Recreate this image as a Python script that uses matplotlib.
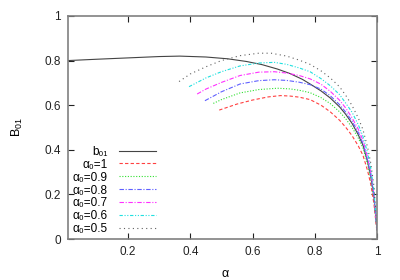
import matplotlib
matplotlib.use("Agg")
import matplotlib.pyplot as plt

plt.rcParams['font.family'] = ['Liberation Sans', 'DejaVu Sans']
plt.rcParams['mathtext.fontset'] = 'custom'
plt.rcParams['mathtext.rm'] = 'Liberation Sans'
plt.rcParams['mathtext.it'] = 'Liberation Sans'

# b01 curve
x_b01 = [0.007, 0.1, 0.2, 0.3, 0.366, 0.45, 0.52, 0.58, 0.63, 0.68, 0.72, 0.76, 0.785, 0.82, 0.85, 0.88, 0.9, 0.92, 0.94, 0.955, 0.97, 0.98, 0.99, 1.0]
y_b01 = [0.800, 0.806, 0.812, 0.818, 0.820, 0.816, 0.808, 0.796, 0.782, 0.762, 0.742, 0.716, 0.695, 0.664, 0.632, 0.592, 0.558, 0.518, 0.467, 0.420, 0.345, 0.28, 0.19, 0.04]

# alpha0 = 1
x_a10 = [0.493, 0.55, 0.6, 0.65, 0.69, 0.72, 0.75, 0.785, 0.82, 0.85, 0.88, 0.9, 0.92, 0.94, 0.955, 0.97, 0.98, 0.99, 1.0]
y_a10 = [0.578, 0.605, 0.623, 0.637, 0.643, 0.641, 0.636, 0.625, 0.600, 0.570, 0.532, 0.500, 0.463, 0.417, 0.375, 0.305, 0.245, 0.16, 0.03]
# alpha0 = 0.9
x_a09 = [0.474, 0.5, 0.56, 0.62, 0.68, 0.72, 0.75, 0.785, 0.82, 0.85, 0.88, 0.9, 0.92, 0.94, 0.955, 0.97, 0.98, 0.99, 1.0]
y_a09 = [0.608, 0.625, 0.655, 0.670, 0.676, 0.673, 0.667, 0.656, 0.634, 0.607, 0.570, 0.538, 0.500, 0.452, 0.408, 0.335, 0.27, 0.182, 0.04]
# alpha0 = 0.8
x_a08 = [0.447, 0.5, 0.56, 0.62, 0.67, 0.71, 0.75, 0.785, 0.82, 0.85, 0.88, 0.9, 0.92, 0.94, 0.955, 0.97, 0.98, 0.99, 1.0]
y_a08 = [0.620, 0.660, 0.695, 0.710, 0.714, 0.711, 0.703, 0.692, 0.672, 0.642, 0.602, 0.568, 0.528, 0.477, 0.428, 0.353, 0.286, 0.195, 0.04]
# alpha0 = 0.7
x_a07 = [0.422, 0.45, 0.5, 0.56, 0.62, 0.67, 0.71, 0.75, 0.785, 0.82, 0.85, 0.88, 0.9, 0.92, 0.94, 0.955, 0.97, 0.98, 0.99, 1.0]
y_a07 = [0.650, 0.672, 0.702, 0.733, 0.748, 0.750, 0.744, 0.733, 0.718, 0.694, 0.662, 0.622, 0.586, 0.543, 0.492, 0.442, 0.365, 0.30, 0.205, 0.045]
# alpha0 = 0.6
x_a06 = [0.396, 0.45, 0.5, 0.56, 0.62, 0.67, 0.71, 0.75, 0.785, 0.82, 0.85, 0.88, 0.9, 0.92, 0.94, 0.955, 0.97, 0.98, 0.99, 1.0]
y_a06 = [0.683, 0.722, 0.750, 0.776, 0.789, 0.792, 0.783, 0.767, 0.750, 0.719, 0.687, 0.647, 0.608, 0.568, 0.512, 0.460, 0.385, 0.315, 0.22, 0.05]
# alpha0 = 0.5
x_a05 = [0.364, 0.4, 0.45, 0.5, 0.56, 0.62, 0.66, 0.71, 0.75, 0.785, 0.82, 0.85, 0.88, 0.9, 0.92, 0.94, 0.955, 0.97, 0.98, 0.99, 1.0]
y_a05 = [0.706, 0.740, 0.772, 0.800, 0.822, 0.833, 0.833, 0.820, 0.802, 0.783, 0.754, 0.722, 0.682, 0.643, 0.598, 0.542, 0.490, 0.410, 0.34, 0.24, 0.05]

labels = ['b₀₁', 'α₀=1', 'α₀=0.9', 'α₀=0.8', 'α₀=0.7', 'α₀=0.6', 'α₀=0.5']
x_ticks = [0.2, 0.4, 0.6, 0.8, 1.0]
x_ticklabels = ['0.2', '0.4', '0.6', '0.8', '1']
y_ticks = [0, 0.2, 0.4, 0.6, 0.8, 1.0]
y_ticklabels = ['0', '0.2', '0.4', '0.6', '0.8', '1']

fig = plt.figure(figsize=(4.0, 2.8), dpi=100)
ax = fig.add_axes([0.17, 0.1464, 0.7725, 0.7966])

series = [
    (x_b01, y_b01, '#444444', '-'),
    (x_a10, y_a10, '#ff4040', (0, (3, 2))),
    (x_a09, y_a09, '#30e030', (0, (1, 1.5))),
    (x_a08, y_a08, '#6060ff', (0, (4, 1.5, 1, 1.5))),
    (x_a07, y_a07, '#ff30ff', (0, (4, 1.5, 1, 1.5))),
    (x_a06, y_a06, '#20e0e0', (0, (3, 1.5, 1, 1.5, 1, 1.5))),
    (x_a05, y_a05, '#606060', (0, (1, 3))),
]
for (xs, ys, c, ls), lab in zip(series, labels):
    ax.plot(xs, ys, color=c, linestyle=ls, lw=0.8, label=lab)

ax.set_xlim(0.007, 1.0)
ax.set_ylim(0, 1.0)
ax.set_xticks(x_ticks)
ax.set_xticklabels(x_ticklabels)
ax.set_yticks(y_ticks)
ax.set_yticklabels(y_ticklabels)
ax.tick_params(direction='in', length=4, width=0.8, top=True, right=True,
               labelsize=8.5, colors='#222222', pad=5)
for s in ax.spines.values():
    s.set_color('#808080')
    s.set_linewidth(1.2)

ax.set_xlabel('α', fontsize=9)
ax.xaxis.set_label_coords(0.51, -0.13)
ax.set_ylabel('B$_{01}$', fontsize=9)
ax.yaxis.set_label_coords(-0.14, 0.5)

leg = ax.legend(loc='lower right', bbox_to_anchor=(0.305, -0.01), frameon=False,
                markerfirst=False, fontsize=8.5, handlelength=3.2,
                handletextpad=0.9, labelspacing=0.08, borderpad=0.0)

fig.savefig('out.png', dpi=100)
